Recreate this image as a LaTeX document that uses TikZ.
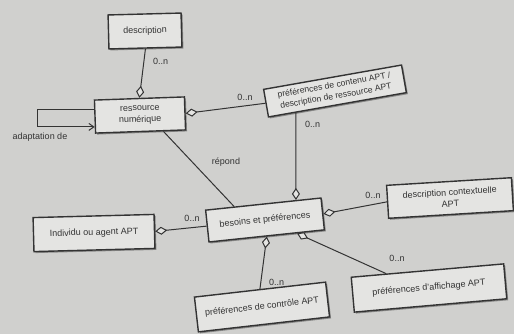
\documentclass[tikz,border=0pt]{standalone}
\usepackage{fontspec}
\setmainfont{Liberation Sans}
\usetikzlibrary{arrows.meta,calc,shadows}
\definecolor{bg}{HTML}{D0D0CE}
\definecolor{boxfill}{HTML}{E4E4E2}
\definecolor{ink}{HTML}{333333}
\begin{document}
\begin{tikzpicture}[x=1pt,y=-1pt,
  box/.style={draw=ink, line width=1.4pt, fill=boxfill, inner sep=2pt, align=center,
    font=\fontsize{9}{11.5}\selectfont, text=ink,
    drop shadow={shadow xshift=1.5pt, shadow yshift=-1.5pt, fill=black, opacity=0.35}},
  conn/.style={draw=ink, line width=1pt},
  agg/.style={conn, -{Diamond[length=12pt,width=8pt,fill=boxfill]}},
  lab/.style={font=\fontsize{9}{10}\selectfont, text=ink, inner sep=1pt}]
\useasboundingbox[fill=bg] (0,0) rectangle (514,334);

\node[box, minimum width=73pt, minimum height=34pt, rotate=1.5] (desc) at (145,31) {description};
\node[box, minimum width=90pt, minimum height=33pt, rotate=2] (res) at (140,115) {ressource\\numérique};
\node[box, minimum width=140pt, minimum height=28pt, rotate=10, font=\fontsize{8.6}{11.2}\selectfont] (pcont) at (335,91) {préférences de contenu APT /\\description de ressource APT};
\node[box, minimum width=116pt, minimum height=32pt, rotate=6] (bes) at (265,220) {besoins et préférences};
\node[box, minimum width=125pt, minimum height=33pt, rotate=3.5] (dctx) at (450,198) {description contextuelle\\APT};
\node[box, minimum width=121pt, minimum height=34pt, rotate=1.5] (indiv) at (94,233) {Individu ou agent APT};
\node[box, minimum width=132pt, minimum height=35pt, rotate=6.5] (pctrl) at (262,307) {préférences de contrôle APT};
\node[box, minimum width=153pt, minimum height=35pt, rotate=5] (paff) at (429,288) {préférences d'affichage APT};

% description -> ressource
\draw[agg] (desc.south) -- (res.north);
\node[lab, anchor=west] (l1) at (152,61) {0..n};
% contenu -> ressource
\draw[agg] (pcont.west) -- (res.east);
\node[lab] (l2) at (245,97) {0..n};
% contenu -> besoins
\draw[agg] ($(pcont.south west)!0.2!(pcont.south east)$) -- ($(bes.north west)!0.78!(bes.north east)$);
\node[lab, anchor=west] (l3) at (304,124) {0..n};
% individu
\draw[agg] (bes.west) -- (indiv.east);
\node[lab] (l4) at (192,218) {0..n};
% contextuelle
\draw[agg] (dctx.west) -- (bes.east);
\node[lab] (l5) at (373,195) {0..n};
% controle
\draw[agg] (pctrl.north) -- (bes.south);
\node[lab, anchor=west] (l6) at (268,282) {0..n};
% affichage
\draw[agg] ($(paff.north west)!0.23!(paff.north east)$) -- ($(bes.south west)!0.76!(bes.south east)$);
\node[lab] (l7) at (397,258) {0..n};
% repond
\draw[conn] ($(res.south west)!0.75!(res.south east)$) -- ($(bes.north west)!0.25!(bes.north east)$);
\node[lab] (rep) at (226,162) {répond};
% self loop
\draw[conn, -{Straight Barb[length=5pt,width=7pt]}] ($(res.north west)!0.3!(res.south west)$) -- ++(-57,0) coordinate (lc) |- ($(res.north west)!0.8!(res.south west)$);
\node[lab] (ad) at (40,137) {adaptation de};
\end{tikzpicture}
\end{document}
